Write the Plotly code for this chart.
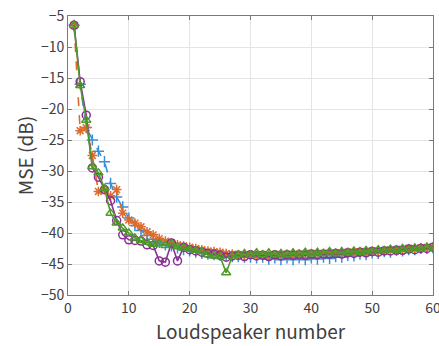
import plotly.graph_objects as go

speakers = list(range(1, 61))

mse_blue = [-6.5, -16.0, -23.0, -25.0, -26.8, -28.5, -32.0, -34.2, -35.8, -37.6, -38.8, -39.6,
            -40.4, -41.0, -41.5, -41.9, -42.1, -42.4, -42.7, -42.9, -43.1, -43.3, -43.4, -43.5,
            -43.6, -43.7, -43.8, -43.8, -43.9, -43.9, -44.0, -43.9, -44.2, -44.0, -44.3, -44.0,
            -44.3, -44.0, -44.3, -44.0, -44.2, -43.9, -44.1, -43.8, -43.9, -43.6, -43.7, -43.4,
            -43.5, -43.2, -43.3, -43.0, -43.1, -42.8, -42.9, -42.7, -42.7, -42.5, -42.5, -42.4]

mse_orange = [-6.5, -23.5, -23.0, -27.5, -33.3, -33.0, -34.0, -33.0, -36.8, -37.9, -38.4, -39.0,
              -39.8, -40.3, -40.9, -41.3, -41.6, -41.9, -42.1, -42.3, -42.5, -42.7, -42.9, -43.0,
              -43.1, -43.3, -43.4, -43.5, -43.6, -43.5, -43.6, -43.5, -43.6, -43.5, -43.5, -43.4,
              -43.5, -43.4, -43.4, -43.3, -43.4, -43.3, -43.3, -43.2, -43.2, -43.1, -43.1, -43.0,
              -43.0, -42.9, -42.9, -42.8, -42.7, -42.7, -42.6, -42.5, -42.5, -42.4, -42.3, -42.3]

mse_purple = [-6.5, -15.6, -21.0, -29.5, -31.0, -33.0, -34.8, -38.0, -40.3, -41.1, -41.2, -41.3,
              -41.9, -42.0, -44.5, -44.7, -41.6, -44.5, -42.3, -42.7, -42.9, -43.1, -43.3, -43.4,
              -43.6, -43.9, -43.7, -43.6, -43.8, -43.5, -43.7, -43.6, -43.8, -43.5, -43.7, -43.5,
              -43.6, -43.5, -43.6, -43.4, -43.5, -43.4, -43.4, -43.3, -43.4, -43.2, -43.3, -43.1,
              -43.2, -43.0, -43.1, -42.9, -42.9, -42.8, -42.8, -42.6, -42.7, -42.5, -42.5, -42.3]

mse_green = [-6.5, -16.2, -21.8, -29.3, -30.3, -32.8, -36.8, -38.4, -39.2, -40.0, -40.8, -41.2,
             -41.5, -41.8, -41.7, -42.0, -41.7, -42.2, -42.4, -42.6, -42.8, -43.0, -43.5, -43.7,
             -43.8, -46.4, -43.7, -43.5, -43.3, -43.6, -43.2, -43.5, -43.2, -43.5, -43.3, -43.5,
             -43.2, -43.4, -43.1, -43.4, -43.1, -43.3, -43.0, -43.3, -43.0, -43.2, -42.9, -43.1,
             -42.8, -43.0, -42.7, -42.9, -42.6, -42.8, -42.5, -42.7, -42.4, -42.6, -42.3, -42.4]

x_ticks = [0, 10, 20, 30, 40, 50, 60]
y_ticks = [-50, -45, -40, -35, -30, -25, -20, -15, -10, -5]

series = [
    (mse_blue, "#3a8fd9", "dash", "cross-thin-open"),
    (mse_orange, "#e06a2a", "dash", "asterisk-open"),
    (mse_purple, "#8a2e95", "solid", "circle-open"),
    (mse_green, "#4e9a2a", "solid", "triangle-up-open"),
]

fig = go.Figure()
for values, color, dash, symbol in series:
    fig.add_trace(go.Scatter(
        x=speakers, y=values, mode="lines+markers",
        line=dict(color=color, width=1.6, dash=dash),
        marker=dict(symbol=symbol, size=8, color=color, line=dict(color=color, width=1.5)),
        showlegend=False,
    ))

font_family = "Noto Sans CJK JP, Noto Sans, sans-serif"
axis_common = dict(
    showgrid=True, gridcolor="#e4e4e4", gridwidth=1,
    showline=True, linecolor="#7a7a7a", linewidth=1, mirror="ticks",
    ticks="inside", ticklen=4, tickcolor="#7a7a7a",
    zeroline=False,
    automargin=False,
    ticklabeloverflow="allow",
    tickfont=dict(family=font_family, size=14, color="#404040"),
    title_font=dict(family=font_family, size=19, color="#404040"),
)

fig.update_xaxes(range=[0, 60], tickvals=x_ticks, title_text="Loudspeaker number",
                 title_standoff=2, **axis_common)
fig.update_yaxes(range=[-50, -5], tickvals=y_ticks, title_text="MSE (dB)",
                 title_standoff=2, **axis_common)

fig.update_layout(
    width=439, height=346,
    margin=dict(l=68, r=6, t=16, b=51, autoexpand=False),
    paper_bgcolor="white", plot_bgcolor="white",
)

fig.write_html("out.html")
